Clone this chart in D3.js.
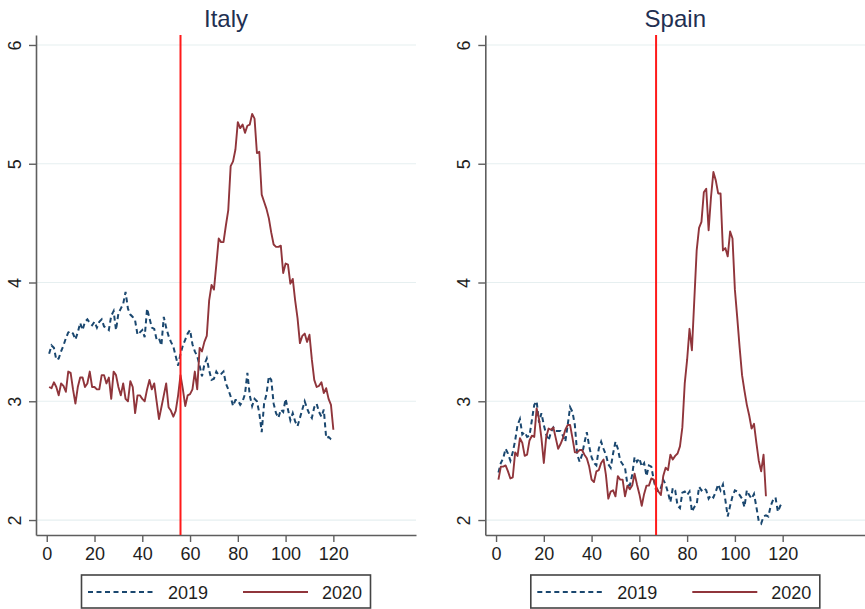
<!DOCTYPE html>
<html>
<head>
<meta charset="utf-8">
<script src="https://cdn.jsdelivr.net/npm/d3@7"></script>
<style>
  body { margin: 0; background: #fff; }
  svg { display: block; font-family: "Liberation Sans", Arial, sans-serif; }
</style>
</head>
<body>
<div id="chart"></div>
<script>
const width = 865,
  height = 609;

// x tick labels and y tick labels
const xTicks = [0, 20, 40, 60, 80, 100, 120];
const yTicks = [2, 3, 4, 5, 6];
const years = ["2019", "2020"];

// daily values, day 1 .. n
const italy2019 = [
  3.40, 3.47, 3.45, 3.35, 3.36, 3.42, 3.47, 3.53, 3.58, 3.59,
  3.57, 3.52, 3.58, 3.66, 3.60, 3.67, 3.69, 3.66, 3.64, 3.67,
  3.62, 3.67, 3.69, 3.63, 3.62, 3.60, 3.72, 3.76, 3.60, 3.74,
  3.78, 3.82, 3.92, 3.78, 3.73, 3.71, 3.68, 3.56, 3.58, 3.60,
  3.54, 3.78, 3.70, 3.62, 3.61, 3.52, 3.53, 3.47, 3.71, 3.62,
  3.55, 3.50, 3.46, 3.38, 3.30, 3.40, 3.47, 3.52, 3.57, 3.60,
  3.48, 3.42, 3.38, 3.30, 3.21, 3.31, 3.36, 3.26, 3.18, 3.19,
  3.25, 3.22, 3.23, 3.25, 3.15, 3.10, 3.04, 2.96, 3.01, 3.01,
  2.97, 3.00, 3.06, 3.24, 3.05, 2.96, 3.02, 3.00, 2.90, 2.74,
  2.98, 3.06, 3.21, 3.18, 2.98, 2.90, 2.86, 2.93, 2.91, 3.02,
  2.93, 2.84, 2.90, 2.83, 2.79, 2.86, 2.93, 3.00, 2.94, 2.89,
  2.86, 2.95, 2.98, 2.91, 2.87, 2.93, 2.69, 2.70, 2.68, 2.67
];
const italy2020 = [
  3.12, 3.11, 3.16, 3.12, 3.05, 3.15, 3.13, 3.08, 3.25, 3.24,
  3.10, 2.98, 3.12, 3.20, 3.20, 3.12, 3.15, 3.25, 3.12, 3.12,
  3.10, 3.10, 3.22, 3.22, 3.15, 3.20, 3.02, 3.25, 3.22, 3.12,
  3.05, 3.15, 3.02, 3.00, 3.17, 3.12, 2.90, 3.05, 3.05, 3.02,
  3.00, 3.10, 3.18, 3.10, 3.15, 3.00, 2.85, 2.95, 3.05, 3.15,
  2.95, 2.92, 2.87, 2.92, 3.05, 3.22, 3.10, 2.96, 3.05, 3.06,
  3.10, 3.25, 3.10, 3.45, 3.42, 3.50, 3.55, 3.85, 3.98, 3.94,
  4.15, 4.37, 4.34, 4.34, 4.48, 4.61, 4.98, 5.02, 5.12, 5.35,
  5.30, 5.33, 5.26, 5.32, 5.33, 5.42, 5.38, 5.09, 5.10, 4.74,
  4.68, 4.62, 4.54, 4.42, 4.32, 4.30, 4.30, 4.31, 4.08, 4.16,
  4.15, 3.99, 4.03, 3.85, 3.70, 3.49, 3.55, 3.57, 3.50, 3.56,
  3.35, 3.18, 3.12, 3.13, 3.16, 3.07, 3.11, 3.02, 2.97, 2.76
];
const spain2019 = [
  2.40, 2.48, 2.52, 2.60, 2.56, 2.50, 2.57, 2.67, 2.80, 2.85,
  2.72, 2.74, 2.70, 2.71, 2.84, 2.97, 3.00, 2.82, 2.90, 2.80,
  2.72, 2.67, 2.74, 2.78, 2.75, 2.75, 2.75, 2.71, 2.66, 2.80,
  2.95, 2.91, 2.80, 2.55, 2.49, 2.55, 2.65, 2.74, 2.62, 2.53,
  2.48, 2.46, 2.60, 2.66, 2.60, 2.55, 2.47, 2.44, 2.56, 2.66,
  2.60, 2.50, 2.47, 2.44, 2.30, 2.29, 2.38, 2.53, 2.49, 2.52,
  2.45, 2.48, 2.37, 2.46, 2.45, 2.34, 2.25, 2.24, 2.27, 2.34,
  2.30, 2.23, 2.15, 2.27, 2.25, 2.12, 2.10, 2.23, 2.24, 2.21,
  2.24, 2.07, 2.11, 2.13, 2.28, 2.25, 2.27, 2.25, 2.18, 2.21,
  2.19, 2.24, 2.30, 2.25, 2.30, 2.17, 2.03, 2.12, 2.20, 2.25,
  2.24, 2.21, 2.18, 2.11, 2.25, 2.21, 2.18, 2.22, 2.11, 1.99,
  1.97, 2.03, 2.04, 2.03, 2.12, 2.17, 2.19, 2.07, 2.12, 2.15
];
const spain2020 = [
  2.34, 2.45, 2.45, 2.46, 2.41, 2.35, 2.36, 2.57, 2.54, 2.69,
  2.65, 2.54, 2.55, 2.67, 2.71, 2.70, 2.94, 2.85, 2.69, 2.48,
  2.70, 2.77, 2.76, 2.78, 2.69, 2.60, 2.64, 2.69, 2.76, 2.80,
  2.80, 2.69, 2.57, 2.57, 2.59, 2.59, 2.55, 2.52, 2.45, 2.34,
  2.32, 2.41, 2.42, 2.48, 2.51, 2.38, 2.18, 2.24, 2.25, 2.20,
  2.37, 2.34, 2.34, 2.20, 2.29, 2.26, 2.29, 2.39, 2.30, 2.22,
  2.12, 2.22, 2.29, 2.29, 2.35, 2.34, 2.28, 2.24, 2.21, 2.37,
  2.44, 2.42, 2.55, 2.51, 2.54, 2.56, 2.62, 2.78, 3.15, 3.35,
  3.61, 3.43, 3.85, 4.27, 4.46, 4.51, 4.76, 4.79, 4.44, 4.72,
  4.93, 4.86, 4.75, 4.75, 4.27, 4.29, 4.22, 4.43, 4.37, 3.94,
  3.70, 3.45, 3.22, 3.09, 2.97, 2.88, 2.77, 2.81, 2.65, 2.50,
  2.41, 2.55, 2.20
];

// lockdown day marked by the red line
const panels = [
  { name: "Italy", s2019: italy2019, s2020: italy2020, cutoff: 56, left: 36 },
  { name: "Spain", s2019: spain2019, s2020: spain2020, cutoff: 67, left: 485.3 },
];

const navy = "#1a476f",
  maroon = "#90353b",
  gridColor = "#e6eff0",
  axisColor = "#5e5e5e";

const plotW = 380,
  plotTop = 35,
  plotBottom = 535;

const svg = d3
  .select("#chart")
  .append("svg")
  .attr("width", width)
  .attr("height", height)
  .attr("viewBox", [0, 0, width, height]);

for (let p of panels) {
  const g = svg.append("g");

  let x = d3
    .scaleLinear()
    .domain([-4.5, 154.6])
    .range([p.left, p.left + plotW]);

  let y = d3
    .scaleLinear()
    .domain([1.874, 6.084])
    .range([plotBottom, plotTop]);

  // gridlines
  g.append("g")
    .selectAll("line")
    .data(yTicks)
    .join("line")
    .attr("x1", p.left)
    .attr("x2", p.left + plotW)
    .attr("y1", (d) => y(d))
    .attr("y2", (d) => y(d))
    .attr("stroke", gridColor)
    .attr("stroke-width", 1.2);

  // y axis, labels turned on their side like Stata does
  const yAxis = g
    .append("g")
    .attr("transform", `translate(${p.left},0)`)
    .call(d3.axisLeft(y).tickValues(yTicks).tickSize(7).tickSizeOuter(0).tickFormat(d3.format("d")));
  yAxis.attr("font-size", null).attr("font-family", null);
  yAxis.select(".domain").attr("stroke", axisColor).attr("stroke-width", 1.6);
  yAxis.selectAll(".tick line").attr("stroke", axisColor).attr("stroke-width", 1.4);
  yAxis
    .selectAll(".tick text")
    .attr("fill", "#1e1e1e")
    .style("font-size", "18px")
    .attr("x", 0)
    .attr("y", 0)
    .attr("dy", null)
    .attr("text-anchor", "middle")
    .attr("dominant-baseline", "central")
    .attr("transform", "translate(-21,0) rotate(-90)");

  // x axis
  const xAxis = g
    .append("g")
    .attr("transform", `translate(0,${plotBottom})`)
    .call(d3.axisBottom(x).tickValues(xTicks).tickSize(7).tickSizeOuter(0));
  xAxis.attr("font-size", null).attr("font-family", null);
  xAxis.select(".domain").attr("stroke", axisColor).attr("stroke-width", 1.6);
  xAxis.selectAll(".tick line").attr("stroke", axisColor).attr("stroke-width", 1.4);
  xAxis
    .selectAll(".tick text")
    .attr("fill", "#1e1e1e")
    .style("font-size", "18px")
    .attr("y", 12)
    .attr("dy", "0.72em");

  let line = d3
    .line()
    .x((d, i) => x(i + 1))
    .y((d) => y(d));

  g.append("path")
    .datum(p.s2019)
    .attr("fill", "none")
    .attr("stroke", navy)
    .attr("stroke-width", 2)
    .style("stroke-dasharray", "5, 3.5")
    .attr("d", line);

  g.append("path")
    .datum(p.s2020)
    .attr("fill", "none")
    .attr("stroke", maroon)
    .attr("stroke-width", 1.9)
    .attr("stroke-linejoin", "round")
    .attr("d", line);

  // red reference line
  g.append("line")
    .attr("x1", x(p.cutoff))
    .attr("x2", x(p.cutoff))
    .attr("y1", plotTop)
    .attr("y2", plotBottom)
    .attr("stroke", "#ff1a1a")
    .attr("stroke-width", 2);

  // title
  const cx = p.left + plotW / 2;
  g.append("text")
    .text(p.name)
    .attr("x", cx)
    .attr("y", 27)
    .attr("text-anchor", "middle")
    .style("font-size", "24px")
    .attr("fill", "#1f3052");

  // legend
  const lw = 289,
    lx = cx - lw / 2,
    ly = 575,
    lh = 33;
  const legend = g.append("g");
  legend
    .append("rect")
    .attr("x", lx)
    .attr("y", ly)
    .attr("width", lw)
    .attr("height", lh)
    .attr("fill", "#fff")
    .attr("stroke", "#444")
    .attr("stroke-width", 1.6);

  const items = [
    { label: years[0], color: navy, dash: "5, 3.5", x0: 6.5, x1: 73.5, tx: 86.5 },
    { label: years[1], color: maroon, dash: "", x0: 161.5, x1: 226.5, tx: 240.5 },
  ];
  for (let it of items) {
    legend
      .append("line")
      .attr("x1", lx + it.x0)
      .attr("x2", lx + it.x1)
      .attr("y1", ly + 17)
      .attr("y2", ly + 17)
      .attr("stroke", it.color)
      .attr("stroke-width", 2)
      .style("stroke-dasharray", it.dash);
    legend
      .append("text")
      .text(it.label)
      .attr("x", lx + it.tx)
      .attr("y", ly + 23.5)
      .style("font-size", "18px")
      .attr("fill", "#1e1e1e");
  }
}
</script>
</body>
</html>
